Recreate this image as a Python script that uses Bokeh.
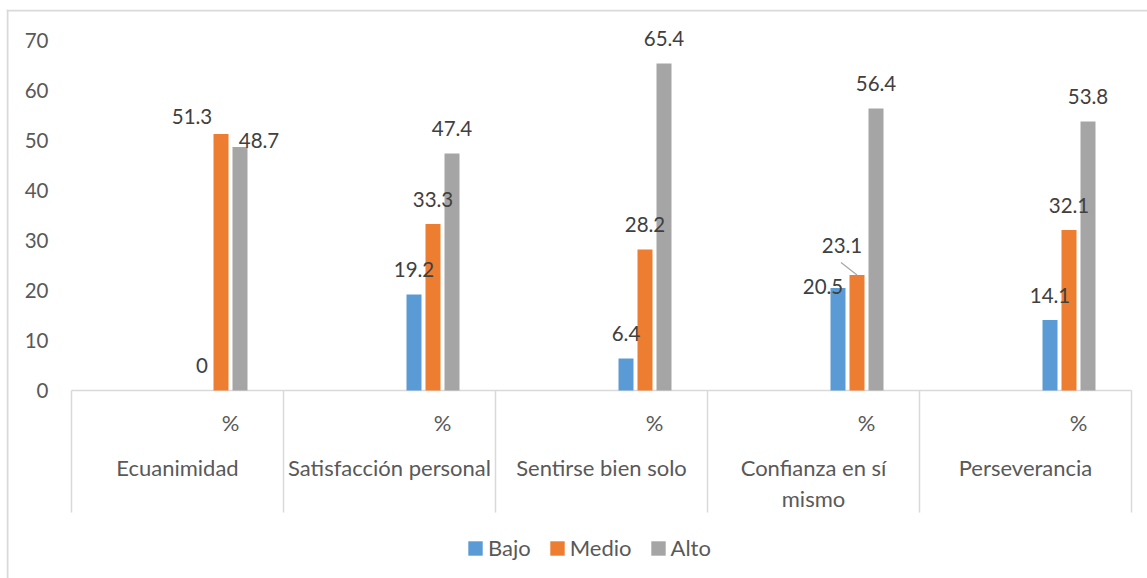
from bokeh.plotting import figure
from bokeh.models import Range1d, FixedTicker, Legend, LegendItem, ColumnDataSource
from bokeh.core.properties import value
from bokeh.embed import file_html
from bokeh.resources import INLINE

# ---------------- data ----------------
categories = ["Ecuanimidad", "Satisfacción personal", "Sentirse bien solo",
              "Confianza en sí\nmismo", "Perseverancia"]
sub_label = "%"
series = ["Bajo", "Medio", "Alto"]
bajo = [0, 19.2, 6.4, 20.5, 14.1]
medio = [51.3, 33.3, 28.2, 23.1, 32.1]
alto = [48.7, 47.4, 65.4, 56.4, 53.8]
y_ticks = [0, 10, 20, 30, 40, 50, 60, 70]

# ---------------- style / layout ----------------
colors = ["#5B9BD5", "#ED7D31", "#A5A5A5"]
FONT = "Lato"
FS_NUM = "20.5px"
FS_TXT = "22px"
AXIS_TXT = "#595959"
LABEL_TXT = "#404040"
GRID = "#D9D9D9"

W, H = 1147, 578
FRAME_L, FRAME_T = 6, 9          # frame covers nearly the whole canvas
PLOT_L, BASE_Y = 71, 390         # pixel position of group 0 start / value 0
px_x = 212.0                     # pixels per group
px_y = 5.0                       # pixels per unit
x_start = -(PLOT_L - FRAME_L) / px_x
x_end = (W - PLOT_L) / px_x
y_end = (BASE_Y - FRAME_T) / px_y
y_start = -(H - BASE_Y) / px_y

def dy_px(px):   # pixel distance below baseline -> data units
    return -px / px_y

# label nudges in pixels (dx, dy); default above bar
default_dy = -25
nudges = {("Medio", 0): (-29, -18), ("Alto", 0): (19, -6.5),
          ("Bajo", 3): (-15, -1.5), ("Medio", 3): (-15, -30)}

bar_w = 15 / px_x
step = 19 / px_x
sub_center = 0.75   # position of the "%" sub-category inside each group

p = figure(width=W, height=H, x_range=Range1d(x_start, x_end),
           y_range=Range1d(y_start, y_end),
           output_backend="svg", toolbar_location=None, x_axis_location=None,
           min_border_left=FRAME_L, min_border_right=0,
           min_border_top=FRAME_T, min_border_bottom=0)
p.outline_line_color = None
p.grid.visible = False
p.background_fill_color = "white"
p.border_fill_color = "white"

ya = p.yaxis[0]
ya.ticker = FixedTicker(ticks=y_ticks)
ya.axis_line_color = None
ya.major_tick_line_color = None
ya.minor_tick_line_color = None
ya.major_tick_out = 0
ya.major_tick_in = 0
ya.major_label_standoff = -(48 - FRAME_L)
ya.major_label_text_font = FONT
ya.major_label_text_font_size = FS_NUM
ya.major_label_text_color = AXIS_TXT

# chart border (left + top)
p.segment(x0=[x_start + 1 / px_x, x_start], y0=[y_start, y_end - 1 / px_y],
          x1=[x_start + 1 / px_x, x_end], y1=[y_end, y_end - 1 / px_y],
          line_color=GRID, line_width=2)

# baseline and category separators
p.segment(x0=[0], y0=[0], x1=[5], y1=[0], line_color=GRID, line_width=1.5)
sep_bottom = dy_px(512 - BASE_Y)
p.segment(x0=list(range(6)), y0=[0] * 6, x1=list(range(6)), y1=[sep_bottom] * 6,
          line_color=GRID, line_width=1.5)

renderers, sources = [], []
for k, (name, vals, col) in enumerate(zip(series, [bajo, medio, alto], colors)):
    xs = [i + sub_center + (k - 1.5) * step for i in range(len(vals))]
    dxs, dys = [], []
    for i in range(len(vals)):
        dx, dy = nudges.get((name, i), (0, default_dy))
        dxs.append(dx)
        dys.append(dy)
    src = ColumnDataSource(dict(x=xs, top=vals,
                                label=[f"{v:g}" for v in vals], dx=dxs, dy=dys))
    r = p.vbar(x="x", top="top", bottom=0, width=bar_w, source=src,
               fill_color=col, line_color=None)
    renderers.append(r)
    sources.append(src)

# leader line for the moved "23.1" label
lead_i = 3
lead_x = lead_i + sub_center + (1 - 1.5) * step
lead_y = medio[lead_i]
p.segment(x0=[lead_x - 16 / px_x], y0=[lead_y + 12.5 / px_y], x1=[lead_x], y1=[lead_y],
          line_color="#A6A6A6", line_width=1.2)

# data labels on top of all bars
for src in sources:
    p.text(x="x", y="top", text="label", x_offset="dx", y_offset="dy", source=src,
           text_align="center", text_baseline="middle", text_font=value(FONT),
           text_font_size=FS_NUM, text_color=LABEL_TXT)

# category axis texts
p.text(x=[i + sub_center for i in range(5)], y=[dy_px(32)] * 5,
       text=[sub_label] * 5, text_align="center", text_baseline="middle",
       text_font=value(FONT), text_font_size=FS_TXT, text_color=AXIS_TXT)
p.text(x=[i + 0.5 for i in range(5)], y=[dy_px(63)] * 5,
       text=categories, text_align="center", text_baseline="top",
       text_font=value(FONT), text_font_size=FS_TXT, text_color=AXIS_TXT,
       text_line_height=1.15)

legend = Legend(items=[LegendItem(label=n, renderers=[r]) for n, r in zip(series, renderers)],
                location=(460, 17), orientation="horizontal", padding=0, margin=0,
                spacing=17, label_standoff=4, glyph_width=18, glyph_height=18,
                label_text_font=FONT, label_text_font_size=FS_TXT,
                label_text_color=AXIS_TXT, border_line_color=None,
                background_fill_alpha=0)
p.add_layout(legend)

open("out.html", "w").write(file_html(p, INLINE))
